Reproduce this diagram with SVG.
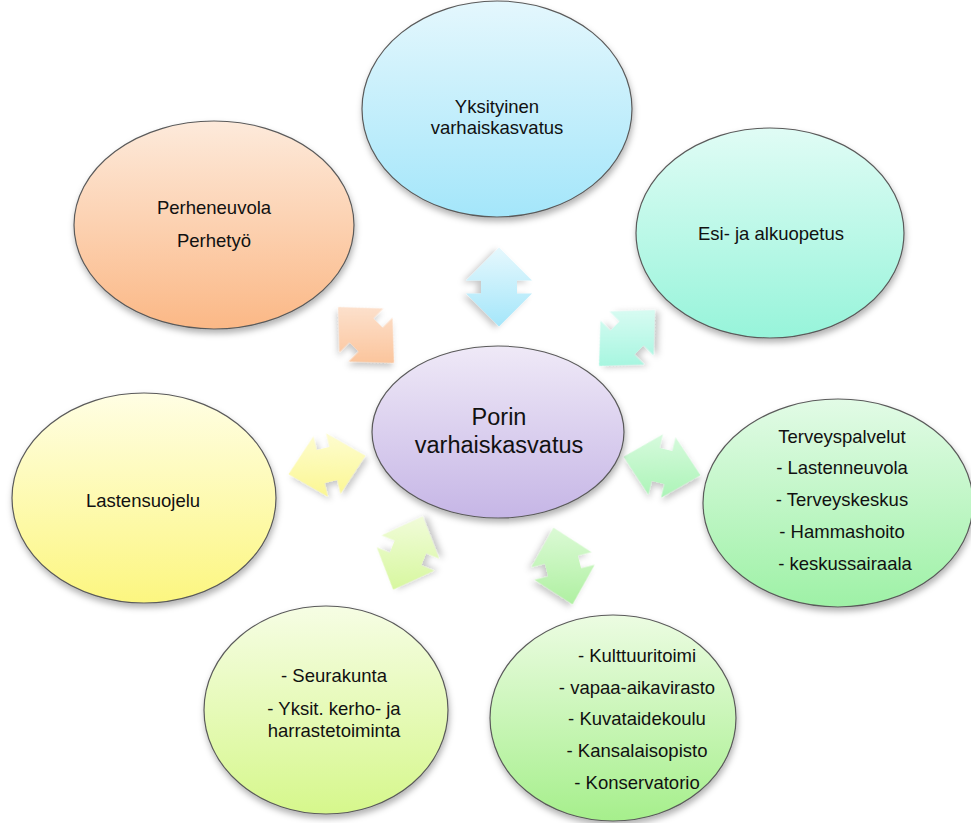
<svg xmlns="http://www.w3.org/2000/svg" width="971" height="823" viewBox="0 0 971 823">
<defs>
<filter id="sh" x="-20%" y="-20%" width="140%" height="140%"><feDropShadow dx="1" dy="4" stdDeviation="3" flood-color="#000" flood-opacity="0.3"/></filter>
<filter id="ash" x="-30%" y="-30%" width="160%" height="160%"><feDropShadow dx="2" dy="4" stdDeviation="3" flood-color="#000" flood-opacity="0.22"/></filter>
<linearGradient id="gC" x1="0" y1="0" x2="0" y2="1"><stop offset="0" stop-color="#efe9f7"/><stop offset="1" stop-color="#c6b6e6"/></linearGradient>
<linearGradient id="gB" x1="0" y1="0" x2="0" y2="1"><stop offset="0" stop-color="#e4f7fd"/><stop offset="1" stop-color="#a4e6fa"/></linearGradient>
<linearGradient id="gO" x1="0" y1="0" x2="0" y2="1"><stop offset="0" stop-color="#fdeadb"/><stop offset="1" stop-color="#fbb886"/></linearGradient>
<linearGradient id="gT" x1="0" y1="0" x2="0" y2="1"><stop offset="0" stop-color="#e0fcf5"/><stop offset="1" stop-color="#97f4da"/></linearGradient>
<linearGradient id="gY" x1="0" y1="0" x2="0" y2="1"><stop offset="0" stop-color="#fffee4"/><stop offset="1" stop-color="#fcf680"/></linearGradient>
<linearGradient id="gG" x1="0" y1="0" x2="0" y2="1"><stop offset="0" stop-color="#e2fbe6"/><stop offset="1" stop-color="#9ef1a6"/></linearGradient>
<linearGradient id="gK" x1="0" y1="0" x2="0" y2="1"><stop offset="0" stop-color="#ecfce2"/><stop offset="1" stop-color="#a6ef8c"/></linearGradient>
<linearGradient id="gS" x1="0" y1="0" x2="0" y2="1"><stop offset="0" stop-color="#f6fde4"/><stop offset="1" stop-color="#d6f78c"/></linearGradient>
<linearGradient id="aB" gradientUnits="userSpaceOnUse" x1="0" y1="-40" x2="0" y2="40" gradientTransform="rotate(-90)"><stop offset="0" stop-color="#e6f8fd"/><stop offset="1" stop-color="#a4e6fa"/></linearGradient>
<linearGradient id="aO" gradientUnits="userSpaceOnUse" x1="0" y1="-40" x2="0" y2="40" gradientTransform="rotate(-45)"><stop offset="0" stop-color="#fde6d6"/><stop offset="1" stop-color="#fbbf92"/></linearGradient>
<linearGradient id="aT" gradientUnits="userSpaceOnUse" x1="0" y1="-40" x2="0" y2="40" gradientTransform="rotate(45)"><stop offset="0" stop-color="#e2fcf6"/><stop offset="1" stop-color="#9cf5dc"/></linearGradient>
<linearGradient id="aY" gradientUnits="userSpaceOnUse" x1="0" y1="-40" x2="0" y2="40" gradientTransform="rotate(13.5)"><stop offset="0" stop-color="#fefdd8"/><stop offset="1" stop-color="#fbf68a"/></linearGradient>
<linearGradient id="aG" gradientUnits="userSpaceOnUse" x1="0" y1="-40" x2="0" y2="40" gradientTransform="rotate(-13.5)"><stop offset="0" stop-color="#dcfbe2"/><stop offset="1" stop-color="#a6f3b2"/></linearGradient>
<linearGradient id="aS" gradientUnits="userSpaceOnUse" x1="0" y1="-40" x2="0" y2="40" gradientTransform="rotate(68)"><stop offset="0" stop-color="#f2fcdc"/><stop offset="1" stop-color="#d6f79c"/></linearGradient>
<linearGradient id="aK" gradientUnits="userSpaceOnUse" x1="0" y1="-40" x2="0" y2="40" gradientTransform="rotate(-76)"><stop offset="0" stop-color="#dcfad6"/><stop offset="1" stop-color="#aef0a0"/></linearGradient>
<path id="arr" d="M -39.5 0 L -6.5 -31 L -6.5 -17 L 6.5 -17 L 6.5 -31 L 39.5 0 L 6.5 31 L 6.5 17 L -6.5 17 L -6.5 31 Z"/>
</defs>
<style>
.node ellipse{stroke:#5a5a5a;stroke-width:1.2;filter:url(#sh)}
text{font-family:"Liberation Sans",Arial,sans-serif;font-size:18.5px;fill:#111;text-anchor:middle}
.big{font-size:23.5px}
.conn use{filter:url(#ash)}
</style>
<rect width="971" height="823" fill="#fff"/>
<g class="conn" id="connectors">
<g transform="translate(499,287) rotate(90)"><path fill="url(#aB)" d="M -39.5 0 L -6.5 -33 L -6.5 -18 L 6.5 -18 L 6.5 -33 L 39.5 0 L 6.5 33 L 6.5 18 L -6.5 18 L -6.5 33 Z" filter="url(#ash)"/></g>
<g transform="translate(366,335) rotate(45)"><use href="#arr" fill="url(#aO)"/></g>
<g transform="translate(627,338) rotate(-45)"><use href="#arr" fill="url(#aT)"/></g>
<g transform="translate(327,465) rotate(-13.5)"><use href="#arr" fill="url(#aY)"/></g>
<g transform="translate(662,466) rotate(13.5)"><use href="#arr" fill="url(#aG)"/></g>
<g transform="translate(408,553) rotate(-68)"><use href="#arr" fill="url(#aS)"/></g>
<g transform="translate(563,566) rotate(76)"><use href="#arr" fill="url(#aK)"/></g>
</g>
<g class="node" id="n-top"><ellipse cx="497" cy="109" rx="135" ry="108" fill="url(#gB)"/><text x="497" y="113">Yksityinen</text><text x="497" y="134">varhaiskasvatus</text></g>
<g class="node" id="n-perhe"><ellipse cx="214" cy="225" rx="140" ry="104" fill="url(#gO)"/><text x="214" y="214">Perheneuvola</text><text x="214" y="247">Perhetyö</text></g>
<g class="node" id="n-esi"><ellipse cx="770" cy="233" rx="134" ry="105" fill="url(#gT)"/><text x="771" y="240">Esi- ja alkuopetus</text></g>
<g class="node" id="n-lasten"><ellipse cx="144" cy="498" rx="132" ry="105" fill="url(#gY)"/><text x="143" y="507">Lastensuojelu</text></g>
<g class="node" id="n-terveys"><ellipse cx="838" cy="503" rx="135" ry="104" fill="url(#gG)"/><text x="842" y="443">Terveyspalvelut</text><text x="842" y="474">- Lastenneuvola</text><text x="842" y="506">- Terveyskeskus</text><text x="842" y="538">- Hammashoito</text><text x="845" y="570">- keskussairaala</text></g>
<g class="node" id="n-kult"><ellipse cx="613" cy="718" rx="123" ry="103" fill="url(#gK)"/><text x="637" y="662">- Kulttuuritoimi</text><text x="637" y="694">- vapaa-aikavirasto</text><text x="637" y="725">- Kuvataidekoulu</text><text x="637" y="757">- Kansalaisopisto</text><text x="637" y="789">- Konservatorio</text></g>
<g class="node" id="n-seura"><ellipse cx="326" cy="710" rx="122" ry="104" fill="url(#gS)"/><text x="334" y="682">- Seurakunta</text><text x="334" y="715">- Yksit. kerho- ja</text><text x="334" y="737">harrastetoiminta</text></g>
<g class="node" id="n-center"><ellipse cx="498" cy="432" rx="126" ry="86" fill="url(#gC)"/><text class="big" x="499" y="425">Porin</text><text class="big" x="499" y="453">varhaiskasvatus</text></g>
</svg>
